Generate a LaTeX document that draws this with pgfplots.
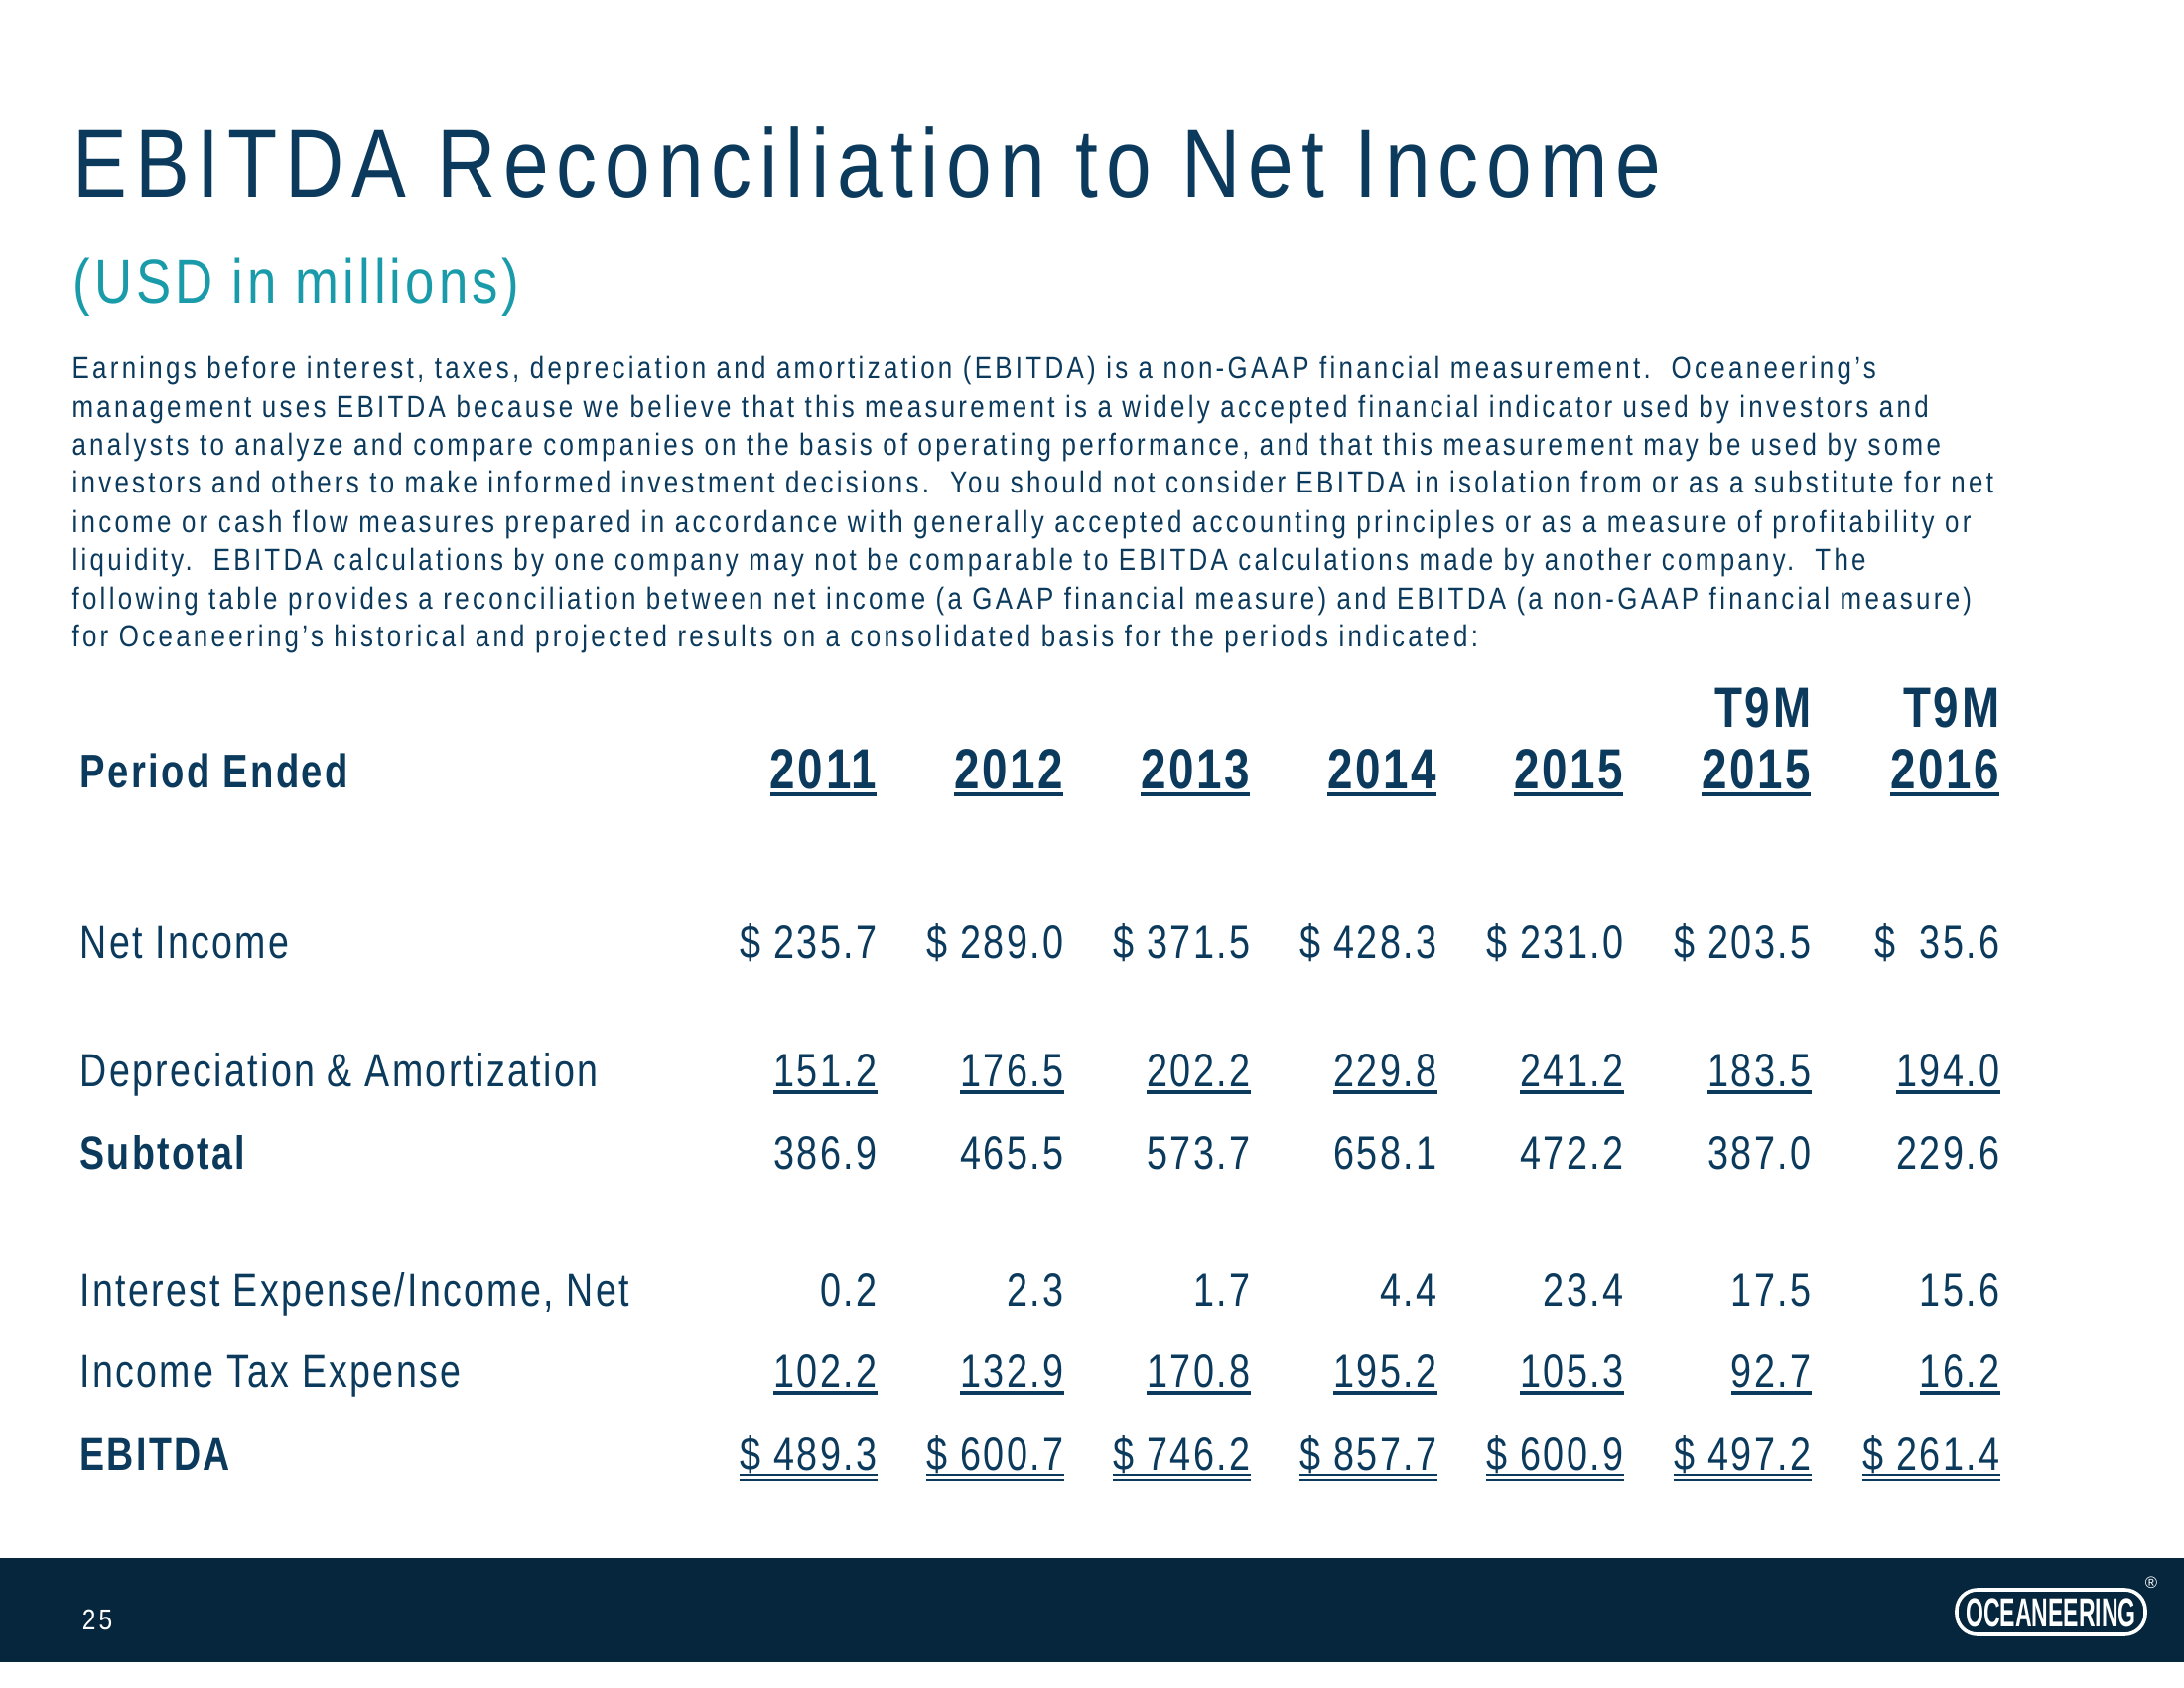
\documentclass[border=0pt]{standalone}
\usepackage{pgfplots}
\pgfplotsset{compat=1.18}
\usepackage{pgfplotstable}
\usepackage{fontspec}
\setmainfont{Liberation Sans}
\newfontfamily\titlefont{Liberation Sans}[FakeStretch=0.84,LetterSpace=8]
\newfontfamily\subfont{Liberation Sans}[FakeStretch=0.84,LetterSpace=6.5]
\newfontfamily\bodyfont{Liberation Sans}[FakeStretch=0.84,LetterSpace=10.7]
\newfontfamily\tabfont{Liberation Sans}[FakeStretch=0.80,LetterSpace=5]
\newfontfamily\numfont{Liberation Sans}[FakeStretch=0.80,LetterSpace=5.3]
\definecolor{navy}{HTML}{0B3A5C}
\definecolor{tealc}{HTML}{1A9BAA}
\definecolor{band}{HTML}{05263D}
\newcommand\xsp{\hspace{4pt}}
\newcommand\uline[1]{\setbox0\hbox{#1}\rlap{\rule[-2.7pt]{\wd0}{1.3pt}}\box0}
\newcommand\dline[1]{\setbox0\hbox{#1}\rlap{\rule[-2.2pt]{\wd0}{0.8pt}}\rlap{\rule[-4.3pt]{\wd0}{0.8pt}}\box0}
\pgfplotstableread{
x    ni    da    sub   int  tax   eb
884  235.7 151.2 386.9 0.2  102.2 489.3
1072 289.0 176.5 465.5 2.3  132.9 600.7
1260 371.5 202.2 573.7 1.7  170.8 746.2
1448 428.3 229.8 658.1 4.4  195.2 857.7
1636 231.0 241.2 472.2 23.4 105.3 600.9
1825 203.5 183.5 387.0 17.5 92.7  497.2
2015 \xsp35.6  194.0 229.6 15.6 16.2  261.4
}\datatable
\begin{document}
\begin{tikzpicture}
\begin{axis}[width=792pt,height=612pt,scale only axis,
  xmin=0,xmax=2200,ymin=0,ymax=1700,y dir=reverse,
  axis lines=none,clip=false,
  every node/.append style={inner sep=0pt,outer sep=0pt},
  numrow/.style={only marks,mark=none,point meta=explicit symbolic,
    nodes near coords style={anchor=base east,inner sep=0pt,outer sep=0pt,text=navy,font=\numfont\fontsize{17}{20}\selectfont}}]
\path (axis cs:0,0) rectangle (axis cs:2200,1700);
% footer band
\fill[band] (axis cs:0,1569) rectangle (axis cs:2200,1674);
% title etc
\node[anchor=base west,text=navy,font=\titlefont\fontsize{35.2}{40}\selectfont] at (axis cs:64,199) {EBITDA Reconciliation to Net Income};
\node[anchor=base west,text=tealc,font=\subfont\fontsize{22.6}{26}\selectfont] at (axis cs:64,306) {(USD in millions)};
\begin{scope}[every node/.style={anchor=base west,text=navy,font=\bodyfont\fontsize{11.1}{13}\selectfont,inner sep=0pt}]
\node at (axis cs:72,382) {Earnings before interest, taxes, depreciation and amortization (EBITDA) is a non-GAAP financial measurement.\ \ Oceaneering’s};
\node at (axis cs:72,420) {management uses EBITDA because we believe that this measurement is a widely accepted financial indicator used by investors and};
\node at (axis cs:72,459) {analysts to analyze and compare companies on the basis of operating performance, and that this measurement may be used by some};
\node at (axis cs:72,497) {investors and others to make informed investment decisions.\ \ You should not consider EBITDA in isolation from or as a substitute for net};
\node at (axis cs:72,536) {income or cash flow measures prepared in accordance with generally accepted accounting principles or as a measure of profitability or};
\node at (axis cs:72,574) {liquidity.\ \ EBITDA calculations by one company may not be comparable to EBITDA calculations made by another company.\ \ The};
\node at (axis cs:72,613) {following table provides a reconciliation between net income (a GAAP financial measure) and EBITDA (a non-GAAP financial measure)};
\node at (axis cs:72,651) {for Oceaneering’s historical and projected results on a consolidated basis for the periods indicated:};
\end{scope}
% header
\begin{scope}[every node/.style={anchor=base east,text=navy,font=\tabfont\bfseries\fontsize{20.6}{24}\selectfont,inner sep=0pt}]
\node at (axis cs:884,794) {\uline{2011}};
\node at (axis cs:1072,794) {\uline{2012}};
\node at (axis cs:1260,794) {\uline{2013}};
\node at (axis cs:1448,794) {\uline{2014}};
\node at (axis cs:1636,794) {\uline{2015}};
\node at (axis cs:1825,794) {\uline{2015}};
\node at (axis cs:2015,794) {\uline{2016}};
\node at (axis cs:1825,732) {T9M};
\node at (axis cs:2015,732) {T9M};
\end{scope}
% row labels
\begin{scope}[every node/.style={anchor=base west,text=navy,font=\tabfont\fontsize{16.9}{20}\selectfont,inner sep=0pt}]
\node[font=\tabfont\bfseries\fontsize{17.2}{20}\selectfont] at (axis cs:80,793) {Period Ended};
\node at (axis cs:80,965) {Net Income};
\node at (axis cs:80,1094) {Depreciation \& Amortization};
\node[font=\tabfont\bfseries\fontsize{16.9}{20}\selectfont] at (axis cs:80,1177) {Subtotal};
\node at (axis cs:80,1315) {Interest Expense/Income, Net};
\node at (axis cs:80,1397) {Income Tax Expense};
\node[font=\tabfont\bfseries\fontsize{16.9}{20}\selectfont] at (axis cs:80,1480) {EBITDA};
\end{scope}
% values
\addplot[numrow,nodes near coords={\$ \pgfplotspointmeta}] table[x=x,y expr=965,meta=ni]{\datatable};
\addplot[numrow,nodes near coords={\uline{\pgfplotspointmeta}}] table[x=x,y expr=1094,meta=da]{\datatable};
\addplot[numrow,nodes near coords={\pgfplotspointmeta}] table[x=x,y expr=1177,meta=sub]{\datatable};
\addplot[numrow,nodes near coords={\pgfplotspointmeta}] table[x=x,y expr=1315,meta=int]{\datatable};
\addplot[numrow,nodes near coords={\uline{\pgfplotspointmeta}}] table[x=x,y expr=1397,meta=tax]{\datatable};
\addplot[numrow,nodes near coords={\dline{\$ \pgfplotspointmeta}}] table[x=x,y expr=1480,meta=eb]{\datatable};
% footer
\node[anchor=base west,text=white,font=\bodyfont\fontsize{10.5}{12}\selectfont] at (axis cs:73,1641) {25};
\draw[white,line width=1.3pt,rounded corners=7.5pt] (axis cs:1971,1601) rectangle (axis cs:2161,1646);
\node[text=white,font=\fontsize{14.8}{16}\bfseries\selectfont] at (axis cs:2066,1624) {\scalebox{0.56}[1]{OCEANEERING}};
\node[text=white,font=\fontsize{6}{7}\selectfont] at (axis cs:2167,1594) {®};
\end{axis}
\end{tikzpicture}
\end{document}
